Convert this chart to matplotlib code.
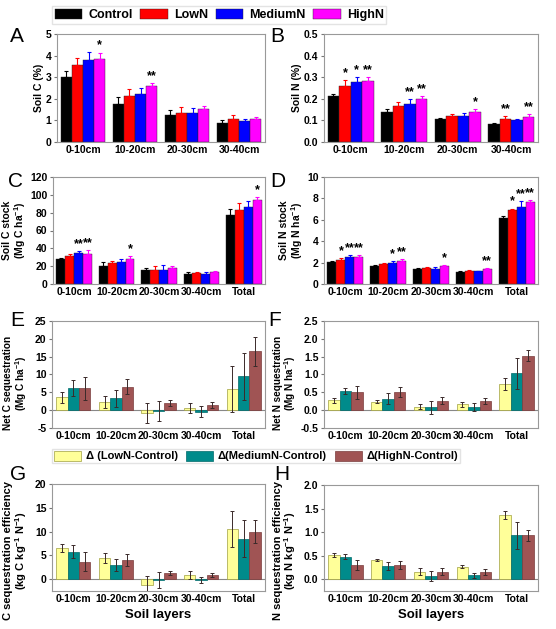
import numpy as np
from matplotlib import pyplot as plt
from matplotlib.patches import Patch

plt.rcParams['font.family'] = ['Liberation Sans', 'DejaVu Sans']
plt.rcParams['font.weight'] = 'bold'
plt.rcParams['mathtext.fontset'] = 'custom'
plt.rcParams['mathtext.rm'] = 'Liberation Sans:bold'
plt.rcParams['mathtext.bf'] = 'Liberation Sans:bold'
plt.rcParams['mathtext.it'] = 'Liberation Sans:bold'

#------------------------------------------------------------------------------
# Data
#------------------------------------------------------------------------------
layers4 = ['0-10cm', '10-20cm', '20-30cm', '30-40cm']
layers5 = ['0-10cm', '10-20cm', '20-30cm', '30-40cm', 'Total']
treatments = ['Control', 'LowN', 'MediumN', 'HighN']
deltas = ['\u0394 (LowN-Control)', '\u0394(MediumN-Control)', '\u0394(HighN-Control)']

# A: soil C (%)
soil_c = [[3.02, 1.78, 1.27, 0.90],
          [3.56, 2.14, 1.32, 1.05],
          [3.79, 2.24, 1.36, 0.97],
          [3.84, 2.59, 1.55, 1.08]]
soil_c_err = [[0.26, 0.30, 0.20, 0.10],
              [0.35, 0.30, 0.28, 0.19],
              [0.39, 0.24, 0.22, 0.08],
              [0.30, 0.15, 0.10, 0.10]]
soil_c_sig = [['', '', '', ''], ['', '', '', ''], ['', '', '', ''],
              ['*', '**', '', '']]

# B: soil N (%)
soil_n = [[0.214, 0.139, 0.105, 0.085],
          [0.260, 0.167, 0.120, 0.108],
          [0.277, 0.178, 0.120, 0.100],
          [0.282, 0.200, 0.139, 0.116]]
soil_n_err = [[0.010, 0.012, 0.008, 0.005],
              [0.026, 0.019, 0.011, 0.012],
              [0.022, 0.020, 0.014, 0.006],
              [0.017, 0.014, 0.012, 0.012]]
soil_n_sig = [['', '', '', ''], ['*', '', '', '**'], ['*', '**', '', ''],
              ['**', '**', '*', '**']]

# C: soil C stock (Mg C ha-1)
c_stock = [[27.9, 20.4, 16.0, 11.5, 77.3],
           [31.6, 23.4, 15.2, 12.3, 82.9],
           [34.6, 24.2, 16.0, 11.5, 86.6],
           [33.8, 27.9, 17.8, 13.4, 94.0]]
c_stock_err = [[1.0, 4.0, 2.5, 1.5, 6.7],
               [2.0, 2.5, 4.5, 1.5, 7.4],
               [2.5, 3.5, 4.8, 1.5, 6.7],
               [4.5, 3.0, 2.0, 1.0, 3.7]]
c_stock_sig = [['', '', '', '', ''], ['', '', '', '', ''],
               ['**', '', '', '', ''], ['**', '*', '', '', '*']]

# D: soil N stock (Mg N ha-1)
n_stock = [[2.01, 1.64, 1.39, 1.11, 6.13],
           [2.26, 1.86, 1.49, 1.21, 6.90],
           [2.57, 1.95, 1.42, 1.18, 7.15],
           [2.50, 2.17, 1.64, 1.39, 7.68]]
n_stock_err = [[0.10, 0.10, 0.10, 0.06, 0.25],
               [0.15, 0.06, 0.10, 0.08, 0.15],
               [0.12, 0.20, 0.20, 0.08, 0.60],
               [0.20, 0.18, 0.15, 0.12, 0.15]]
n_stock_sig = [['', '', '', '', ''], ['*', '', '', '', '*'],
               ['**', '*', '', '', '**'], ['**', '**', '*', '**', '**']]

# E: net C sequestration (Mg C ha-1)
net_c = [[3.6, 2.4, -0.7, 0.6, 5.9],
         [6.3, 3.3, -0.1, -0.4, 9.5],
         [6.1, 6.6, 2.1, 1.5, 16.5]]
net_c_err = [[1.6, 1.7, 2.8, 1.4, 6.4],
             [2.2, 2.3, 2.8, 1.5, 6.6],
             [3.3, 2.1, 0.8, 0.85, 4.1]]

# F: net N sequestration (Mg N ha-1)
net_n = [[0.28, 0.24, 0.10, 0.16, 0.73],
         [0.54, 0.32, 0.08, 0.09, 1.03],
         [0.50, 0.51, 0.27, 0.26, 1.53]]
net_n_err = [[0.07, 0.04, 0.08, 0.06, 0.17],
             [0.08, 0.15, 0.18, 0.10, 0.43],
             [0.18, 0.13, 0.10, 0.09, 0.16]]

# G: C sequestration efficiency (kg C kg-1 N-1)
c_eff = [[6.5, 4.4, -1.2, 0.9, 10.5],
         [5.8, 3.0, -0.1, -0.2, 8.5],
         [3.7, 4.05, 1.26, 0.9, 10.0]]
c_eff_err = [[0.9, 1.0, 1.8, 0.9, 3.8],
             [1.3, 1.3, 1.7, 0.7, 3.9],
             [2.0, 1.2, 0.5, 0.4, 2.5]]

# H: N sequestration efficiency (kg N kg-1 N-1)
n_eff = [[0.52, 0.41, 0.16, 0.27, 1.36],
         [0.48, 0.28, 0.07, 0.08, 0.93],
         [0.30, 0.30, 0.16, 0.16, 0.93]]
n_eff_err = [[0.04, 0.02, 0.07, 0.03, 0.08],
             [0.05, 0.09, 0.11, 0.06, 0.28],
             [0.10, 0.08, 0.07, 0.06, 0.11]]

treat_colors = ['#000000', '#ff0000', '#0000ff', '#ff00ff']
delta_colors = ['#ffff99', '#008b8b', '#a05454']
delta_edges = ['#a0a040', '#006a6a', '#7a3c3c']

#------------------------------------------------------------------------------
# Helpers
#------------------------------------------------------------------------------
def style_axes( ax, cats ):
  for s in ax.spines.values():
    s.set_color( '#999999' )
    s.set_linewidth( 0.8 )
  ax.set_xticks( np.arange( len( cats ) ) )
  ax.set_xticklabels( cats, fontsize=7.5, fontweight='bold' )
  ax.tick_params( axis='x', length=0, pad=2 )
  ax.tick_params( axis='y', length=2.5, width=0.8, color='#777777',
                  labelsize=7.5, pad=1.5 )
  for t in ax.get_yticklabels():
    t.set_fontweight( 'bold' )
  ax.set_xlim( -0.5, len( cats ) - 0.5 )


def top_panel( ax, cats, vals, errs, sigs, group_w, ylim, ticks, ylabel, fmt ):
  n = len( vals )
  w = group_w / n
  x = np.arange( len( cats ) )
  span = ylim[1] - ylim[0]
  for i in range( n ):
    xi = x - group_w / 2 + w * ( i + 0.5 )
    v = np.array( vals[i] )
    e = np.array( errs[i] )
    ax.bar( xi, v, w, color=treat_colors[i], edgecolor='#222222', linewidth=0.3,
            zorder=2 )
    ax.errorbar( xi, v, yerr=[np.zeros_like( e ), e], fmt='none',
                 ecolor=treat_colors[i], elinewidth=0.8, capsize=1.5,
                 capthick=0.8, zorder=3 )
    for j in range( len( cats ) ):
      if sigs[i][j]:
        ax.text( xi[j], v[j] + e[j] + span * 0.01, sigs[i][j], ha='center',
                 va='bottom', fontsize=9, fontweight='bold' )
  ax.set_ylim( ylim )
  ax.set_yticks( ticks )
  ax.set_yticklabels( [fmt % t for t in ticks] )
  ax.set_ylabel( ylabel, fontsize=7.5, fontweight='bold', labelpad=1.5,
                 linespacing=1.0 )
  style_axes( ax, cats )


def delta_panel( ax, cats, vals, errs, ylim, ticks, ylabel, fmt, lsize=7.5 ):
  n = len( vals )
  group_w = 0.8
  w = group_w / n
  x = np.arange( len( cats ) )
  ax.axhline( 0, color='#888888', linewidth=0.8, zorder=1 )
  for i in range( n ):
    xi = x - group_w / 2 + w * ( i + 0.5 )
    ax.bar( xi, vals[i], w, color=delta_colors[i], edgecolor=delta_edges[i],
            linewidth=0.5, zorder=2 )
    ax.errorbar( xi, vals[i], yerr=errs[i], fmt='none', ecolor='#3a2a2a',
                 elinewidth=0.7, capsize=1.5, capthick=0.7, zorder=3 )
  ax.set_ylim( ylim )
  ax.set_yticks( ticks )
  ax.set_yticklabels( [fmt % t for t in ticks] )
  ax.set_ylabel( ylabel, fontsize=lsize, fontweight='bold', labelpad=1.5,
                 linespacing=1.0 )
  style_axes( ax, cats )


#------------------------------------------------------------------------------
# Figure
#------------------------------------------------------------------------------
fig = plt.figure( figsize=( 5.56, 6.29 ), dpi=100 )

W = 556.0
H = 629.0
def add_ax( left, top, right, bottom ):
  return fig.add_axes( [left / W, 1 - bottom / H, ( right - left ) / W,
                        ( bottom - top ) / H] )

axA = add_ax( 57, 34, 265, 142 )
axB = add_ax( 324, 34, 538, 142 )
axC = add_ax( 53, 177, 265, 284 )
axD = add_ax( 324, 177, 538, 284 )
axE = add_ax( 52, 321, 265, 428 )
axF = add_ax( 324, 321, 538, 428 )
axG = add_ax( 52, 484, 265, 591 )
axH = add_ax( 324, 485, 538, 591 )

top_panel( axA, layers4, soil_c, soil_c_err, soil_c_sig, 0.86, ( 0, 5 ),
           [0, 1, 2, 3, 4, 5], 'Soil C (%)', '%d' )
top_panel( axB, layers4, soil_n, soil_n_err, soil_n_sig, 0.86, ( 0, 0.5 ),
           [0, 0.1, 0.2, 0.3, 0.4, 0.5], 'Soil N (%)', '%.1f' )
top_panel( axC, layers5, c_stock, c_stock_err, c_stock_sig, 0.84, ( 0, 120 ),
           [0, 20, 40, 60, 80, 100, 120],
           'Soil C stock\n(Mg C ha$^{-1}$)', '%d' )
top_panel( axD, layers5, n_stock, n_stock_err, n_stock_sig, 0.84, ( 0, 10 ),
           [0, 2, 4, 6, 8, 10], 'Soil N stock\n(Mg N ha$^{-1}$)', '%d' )

delta_panel( axE, layers5, net_c, net_c_err, ( -5, 25 ),
             [-5, 0, 5, 10, 15, 20, 25],
             'Net C sequestration\n(Mg C ha$^{-1}$)', '%d', 7.2 )
delta_panel( axF, layers5, net_n, net_n_err, ( -0.5, 2.5 ),
             [-0.5, 0, 0.5, 1.0, 1.5, 2.0, 2.5],
             'Net N sequestration\n(Mg N ha$^{-1}$)', '%.1f', 7.2 )
delta_panel( axG, layers5, c_eff, c_eff_err, ( -2.5, 20 ),
             [0, 5, 10, 15, 20],
             'C sequestration efficiency\n(kg C kg$^{-1}$ N$^{-1}$)', '%d', 8 )
delta_panel( axH, layers5, n_eff, n_eff_err, ( -0.25, 2.0 ),
             [0, 0.5, 1.0, 1.5, 2.0],
             'N sequestration efficiency\n(kg N kg$^{-1}$ N$^{-1}$)', '%.1f', 8 )

# E/F labels sit a little low in the original
axE.yaxis.set_label_coords( -0.11, 0.42 )
axF.yaxis.set_label_coords( -0.12, 0.42 )
# G/H labels run down past the axes
axG.yaxis.set_label_coords( -0.11, 0.38 )
axH.yaxis.set_label_coords( -0.12, 0.38 )

for ax in ( axG, axH ):
  ax.set_xlabel( 'Soil layers', fontsize=9.5, fontweight='bold', labelpad=4 )

# panel letters
letters = [( 'A', 10, 36 ), ( 'B', 270, 36 ), ( 'C', 8, 182 ), ( 'D', 270, 182 ),
           ( 'E', 10, 321 ), ( 'F', 268, 321 ), ( 'G', 10, 474 ), ( 'H', 274, 475 )]
for lab, px, py in letters:
  fig.text( px / W, 1 - py / H, lab, fontsize=15, fontweight='normal',
            ha='left', va='center' )

# legends
h1 = [Patch( facecolor=c, edgecolor='#222222', linewidth=0.3 ) for c in treat_colors]
fig.legend( h1, treatments, loc='center left', bbox_to_anchor=( 52 / W, 1 - 15 / H ),
            ncol=4, frameon=True, fancybox=False, edgecolor='#dddddd',
            prop={'size': 9, 'weight': 'bold'}, handlelength=2.2,
            handleheight=0.8, handletextpad=0.5, columnspacing=0.6,
            borderpad=0.2, borderaxespad=0 )

h2 = [Patch( facecolor=c, edgecolor=e, linewidth=0.5 )
      for c, e in zip( delta_colors, delta_edges )]
fig.legend( h2, deltas, loc='center left', bbox_to_anchor=( 52 / W, 1 - 456 / H ),
            ncol=3, frameon=True, fancybox=False, edgecolor='#dddddd',
            prop={'size': 8, 'weight': 'bold'}, handlelength=2.5,
            handleheight=1.0, handletextpad=0.4, columnspacing=0.7,
            borderpad=0.15, borderaxespad=0 )

plt.gcf().savefig( 'out.png', dpi=100 )
